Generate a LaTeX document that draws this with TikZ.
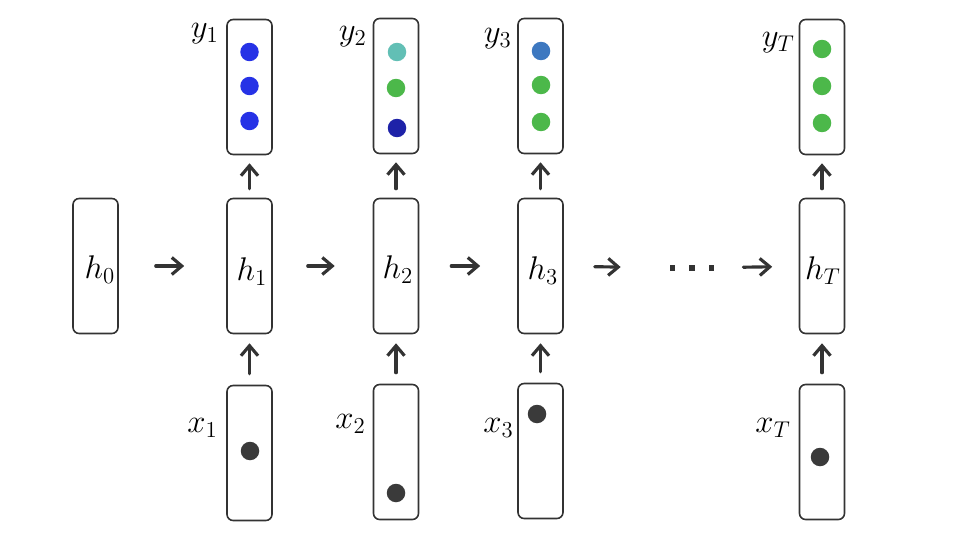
\documentclass[tikz,border=0pt]{standalone}
\usetikzlibrary{positioning,arrows.meta}
\definecolor{ink}{HTML}{333333}
\definecolor{dotblue}{HTML}{2632E6}
\definecolor{dotteal}{HTML}{62BFB5}
\definecolor{dotgreen}{HTML}{4CB84A}
\definecolor{dotnavy}{HTML}{1E22A8}
\definecolor{dotsteel}{HTML}{3D78C0}
\definecolor{dotgray}{HTML}{3A3A3A}

\begin{document}
\begin{tikzpicture}[x=0.02cm,y=-0.02cm,
  cell/.style={rounded corners=3.5pt,draw=ink,line width=0.9pt,fill=white,minimum width=0.9cm,minimum height=2.7cm,inner sep=0pt},
  arr/.style={-{Straight Barb[length=2mm,width=3.4mm]},line width=1.8pt,draw=ink,line cap=round},
  dot/.style={circle,inner sep=0pt,minimum size=0.37cm},
  lab/.style={font=\LARGE,inner sep=1pt,scale=1.08,transform shape}
]
\useasboundingbox (0,0) rectangle (980,554);
% hidden states
\node[cell] (h0) at (95.5,266) {};
\node[cell] (h1) at (249.5,266) {};
\node[cell] (h2) at (396,266) {};
\node[cell] (h3) at (540.5,266) {};
\node[cell] (hT) at (822,266) {};
\node[lab] (lh0) at (100,270) {$h_0$};
\node[lab] (lh1) at (252,272) {$h_1$};
\node[lab] (lh2) at (398,270) {$h_2$};
\node[lab] (lh3) at (543,271) {$h_3$};
\node[lab] (lhT) at (823,271) {$h_T$};
\node[inner sep=0pt] (dots) at (692,268) {\color{ink}\rule{3pt}{3pt}\hspace{8.3pt}\rule{3pt}{3pt}\hspace{8.3pt}\rule{3pt}{3pt}};
% outputs
\node[cell] (y1) at (249.5,87) {};
\node[cell] (y2) at (396,86) {};
\node[cell] (y3) at (540.5,86) {};
\node[cell] (yT) at (822,87) {};
\node[lab,anchor=east] (ly1) at (221,34) {$y_1$};
\node[lab,anchor=east] (ly2) at (369,37) {$y_2$};
\node[lab,anchor=east] (ly3) at (514,39) {$y_3$};
\node[lab,anchor=east] (lyT) at (797,43) {$y_T$};
\node[dot,fill=dotblue] (y1a) at (249.5,52) {};
\node[dot,fill=dotblue] (y1b) at (249.5,86) {};
\node[dot,fill=dotblue] (y1c) at (249.5,121) {};
\node[dot,fill=dotteal] (y2a) at (397,52) {};
\node[dot,fill=dotgreen] (y2b) at (396,88) {};
\node[dot,fill=dotnavy] (y2c) at (397,128) {};
\node[dot,fill=dotsteel] (y3a) at (541,51) {};
\node[dot,fill=dotgreen] (y3b) at (541,85) {};
\node[dot,fill=dotgreen] (y3c) at (541,122) {};
\node[dot,fill=dotgreen] (yTa) at (822,49) {};
\node[dot,fill=dotgreen] (yTb) at (822,86) {};
\node[dot,fill=dotgreen] (yTc) at (822,123) {};
% inputs
\node[cell] (x1) at (249.5,453) {};
\node[cell] (x2) at (396,452) {};
\node[cell] (x3) at (540.5,451) {};
\node[cell] (xT) at (822,452) {};
\node[lab,anchor=east] (lx1) at (220,428) {$x_1$};
\node[lab,anchor=east] (lx2) at (368,424) {$x_2$};
\node[lab,anchor=east] (lx3) at (516,428) {$x_3$};
\node[lab,anchor=east] (lxT) at (793,428) {$x_T$};
\node[dot,fill=dotgray] (x1a) at (250,451) {};
\node[dot,fill=dotgray] (x2a) at (396,493) {};
\node[dot,fill=dotgray] (x3a) at (537,414) {};
\node[dot,fill=dotgray] (xTa) at (820,457) {};
% recurrence
\draw[arr,shorten <=0.74cm,shorten >=0.84cm] (h0) -- (h1);
\draw[arr,shorten <=0.70cm,shorten >=0.76cm] (h1) -- (h2);
\draw[arr,shorten <=0.64cm,shorten >=0.74cm] (h2) -- (h3);
\draw[arr,shorten <=0.62cm,shorten >=0.97cm] (h3) -- (dots);
\draw[arr,shorten <=0.57cm,shorten >=0.53cm] (dots) -- (hT);
% inputs and outputs
\foreach \t in {1,2,3,T}{
  \draw[arr,shorten <=0.18cm,shorten >=0.16cm] (h\t) -- (y\t);
  \draw[arr,shorten <=0.22cm,shorten >=0.18cm] (x\t) -- (h\t);
}
\end{tikzpicture}
\end{document}
